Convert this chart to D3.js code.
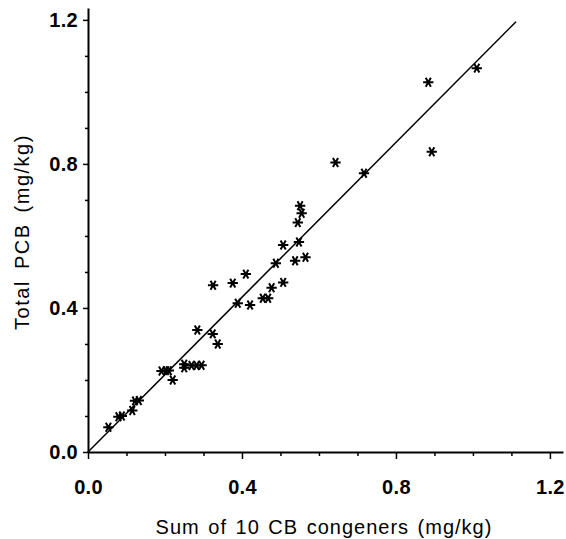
<!DOCTYPE html>
<html>
<head>
<meta charset="utf-8">
<script src="https://cdn.jsdelivr.net/npm/d3@7"></script>
<style>
  body { margin: 0; background: #fff; }
  svg { display: block; }
</style>
</head>
<body>
<svg id="chart" width="566" height="539"></svg>
<script>
// sum of 10 CB congeners (x) vs total PCB (y), mg/kg
const sumCB = [0.053, 0.079, 0.088, 0.115, 0.122, 0.132, 0.191, 0.203, 0.210, 0.220,
  0.250, 0.250, 0.269, 0.282, 0.295, 0.284, 0.324, 0.337, 0.325, 0.376,
  0.410, 0.389, 0.421, 0.454, 0.468, 0.477, 0.507, 0.488, 0.507, 0.538,
  0.548, 0.545, 0.555, 0.551, 0.565, 0.643, 0.717, 0.884, 0.893, 1.010]
const totalPCB = [0.069, 0.098, 0.100, 0.115, 0.142, 0.143, 0.225, 0.226, 0.226, 0.200,
  0.244, 0.234, 0.240, 0.240, 0.241, 0.339, 0.328, 0.300, 0.463, 0.469,
  0.494, 0.413, 0.408, 0.427, 0.427, 0.456, 0.471, 0.524, 0.575, 0.531,
  0.583, 0.637, 0.663, 0.684, 0.541, 0.804, 0.774, 1.027, 0.834, 1.066]

// fitted line end points
const fitX = [0, 1.112]
const fitY = [0, 1.195]

const majorTicks = [0, 0.4, 0.8, 1.2]
const minorTicks = [0.1, 0.2, 0.3, 0.5, 0.6, 0.7, 0.9, 1.0, 1.1]

const xTitle = 'Sum of 10 CB congeners (mg/kg)'
const yTitle = 'Total PCB (mg/kg)'

const svg = d3.select('#chart')
const font = '"Liberation Sans", Arial, sans-serif'

const x = d3.scaleLinear().domain([0, 1.234]).range([88, 563])
const y = d3.scaleLinear().domain([0, 1.233]).range([452, 8])

// axes (major ticks with labels, minor ticks without)
const xAxis = svg.append('g').attr('transform', 'translate(0,452)')
xAxis.call(d3.axisBottom(x).tickValues(majorTicks).tickSize(7).tickSizeOuter(0)
  .tickPadding(21).tickFormat(d3.format('.1f')))
xAxis.append('g').call(d3.axisBottom(x).tickValues(minorTicks).tickSize(4).tickFormat(''))
  .select('.domain').remove()

const yAxis = svg.append('g').attr('transform', 'translate(88,0)')
yAxis.call(d3.axisLeft(y).tickValues(majorTicks).tickSize(5).tickSizeOuter(0)
  .tickPadding(5).tickFormat(d3.format('.1f')))
yAxis.append('g').call(d3.axisLeft(y).tickValues(minorTicks).tickSize(3).tickFormat(''))
  .select('.domain').remove()

svg.selectAll('.domain').attr('stroke', '#000').attr('stroke-width', 2)
svg.selectAll('.tick line').attr('stroke', '#000').attr('stroke-width', 1.5)
svg.selectAll('.tick text')
  .attr('font-family', font)
  .attr('font-weight', 'bold')
  .attr('font-size', 20)
  .attr('letter-spacing', 0.3)
  .attr('fill', '#000')

// axis titles
svg.append('text')
  .attr('x', 324).attr('y', 534)
  .attr('text-anchor', 'middle')
  .attr('font-family', font)
  .attr('font-size', 20)
  .attr('letter-spacing', 1)
  .attr('word-spacing', 2)
  .text(xTitle)

svg.append('text')
  .attr('transform', 'translate(29,232) rotate(-90)')
  .attr('text-anchor', 'middle')
  .attr('font-family', font)
  .attr('font-size', 20)
  .attr('letter-spacing', 1.5)
  .attr('word-spacing', 4)
  .text(yTitle)

// fitted line
svg.append('path')
  .datum(d3.zip(fitX, fitY))
  .attr('fill', 'none')
  .attr('stroke', '#000')
  .attr('stroke-width', 1.5)
  .attr('d', d3.line().x(d => x(d[0])).y(d => y(d[1])))

// asterisk markers
const star = d3.symbol().type(d3.symbolAsterisk).size(75)
svg.append('g').selectAll('path')
  .data(d3.zip(sumCB, totalPCB))
  .join('path')
  .attr('transform', d => `translate(${x(d[0])},${y(d[1])}) rotate(90)`)
  .attr('d', star)
  .attr('fill', 'none')
  .attr('stroke', '#000')
  .attr('stroke-width', 2)
</script>
</body>
</html>
